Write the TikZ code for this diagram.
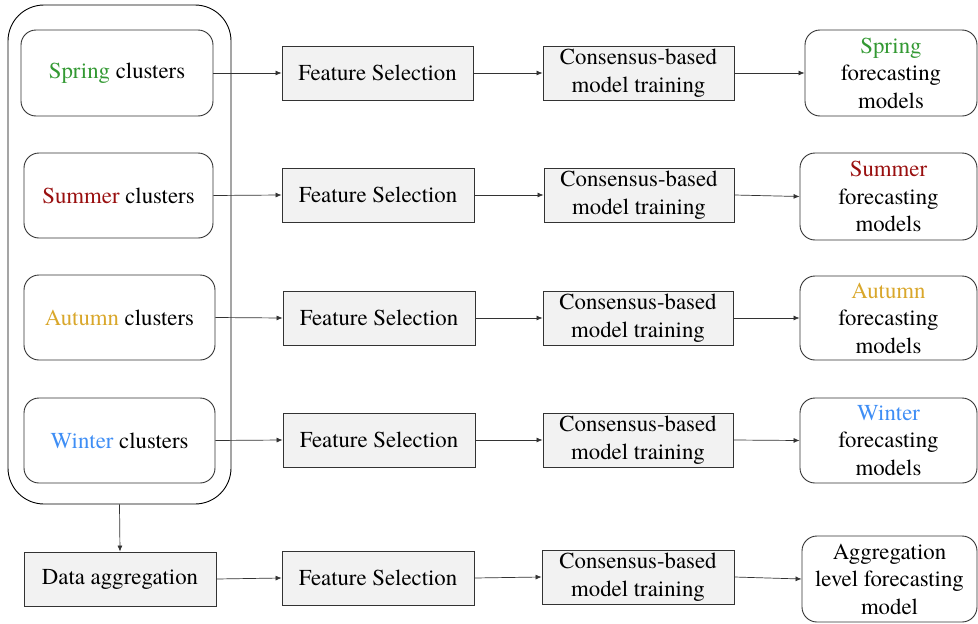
\documentclass[tikz,border=0pt]{standalone}
\usepackage{fontspec}
\newfontfamily\diagfont{TeX Gyre Termes}
\usetikzlibrary{arrows.meta}
\definecolor{springc}{HTML}{339933}
\definecolor{summerc}{HTML}{990F0F}
\definecolor{autumnc}{HTML}{D9A72B}
\definecolor{winterc}{HTML}{3F8EF5}
\definecolor{boxfill}{HTML}{F2F2F2}
\definecolor{edgec}{HTML}{333333}
\tikzset{
  txt/.style={font=\diagfont\fontsize{22.8pt}{27.5pt}\selectfont, align=center, inner sep=0pt},
  clusterbox/.style={txt, draw=edgec, line width=0.9pt, rounded corners=15pt},
  procbox/.style={txt, draw=edgec, line width=0.9pt, fill=boxfill},
  outbox/.style={txt, draw=edgec, line width=0.9pt, rounded corners=15pt},
  flow/.style={draw=black!80, line width=0.7pt, -{Latex[length=6pt,width=5pt]}}
}
\begin{document}
\begin{tikzpicture}[x=1pt,y=-1pt]
\useasboundingbox (0,0) rectangle (978,624);

% outer group of seasonal clusters
\node[draw=black, line width=0.9pt, rounded corners=36pt, minimum width=223pt, minimum height=499pt, inner sep=0pt] (group) at (119.5,254.5) {};

% seasonal cluster boxes
\node[clusterbox, minimum width=192pt, minimum height=86pt] (c1) at (117,73) {\textcolor{springc}{Spring} clusters};
\node[clusterbox, minimum width=189pt, minimum height=85pt] (c2) at (118.5,195.5) {\textcolor{summerc}{Summer} clusters};
\node[clusterbox, minimum width=191pt, minimum height=85pt] (c3) at (119.5,317.5) {\textcolor{autumnc}{Autumn} clusters};
\node[clusterbox, minimum width=191pt, minimum height=85pt] (c4) at (119.5,440.5) {\textcolor{winterc}{Winter} clusters};

% aggregated data
\node[procbox, minimum width=192pt, minimum height=54pt] (c5) at (120,579) {Data aggregation};

% feature selection
\node[procbox, minimum width=191pt, minimum height=54pt] (f1) at (377.5,73) {Feature Selection};
\node[procbox, minimum width=192pt, minimum height=54pt] (f2) at (378,195) {Feature Selection};
\node[procbox, minimum width=192pt, minimum height=54pt] (f3) at (379,318) {Feature Selection};
\node[procbox, minimum width=192pt, minimum height=54pt] (f4) at (379,440) {Feature Selection};
\node[procbox, minimum width=192pt, minimum height=54pt] (f5) at (378,578) {Feature Selection};

% consensus-based training
\node[procbox, minimum width=191pt, minimum height=54pt] (m1) at (638.5,73) {Consensus-based\\model training};
\node[procbox, minimum width=190pt, minimum height=54pt] (m2) at (639,195) {Consensus-based\\model training};
\node[procbox, minimum width=190pt, minimum height=54pt] (m3) at (638,318) {Consensus-based\\model training};
\node[procbox, minimum width=190pt, minimum height=54pt] (m4) at (638,440) {Consensus-based\\model training};
\node[procbox, minimum width=192pt, minimum height=54pt] (m5) at (638,577) {Consensus-based\\model training};

% resulting models
\node[outbox, minimum width=172pt, minimum height=86pt] (o1) at (891,73) {\textcolor{springc}{Spring}\\forecasting\\models};
\node[outbox, minimum width=177pt, minimum height=87pt] (o2) at (888.5,196.5) {\textcolor{summerc}{Summer}\\forecasting\\models};
\node[outbox, minimum width=177pt, minimum height=84pt] (o3) at (888.5,318) {\textcolor{autumnc}{Autumn}\\forecasting\\models};
\node[outbox, minimum width=177pt, minimum height=85pt] (o4) at (888.5,440.5) {\textcolor{winterc}{Winter}\\forecasting\\models};
\node[outbox, minimum width=175pt, minimum height=86pt] (o5) at (889.5,579) {Aggregation\\level forecasting\\model};

% connectors
\foreach \i in {1,...,5}{
  \draw[flow] (c\i.east) -- (f\i.west);
  \draw[flow] (f\i.east) -- (m\i.west);
  \draw[flow] (m\i.east) -- (o\i.west);
}
\draw[flow] (group.south) -- (c5.north);
\end{tikzpicture}
\end{document}
